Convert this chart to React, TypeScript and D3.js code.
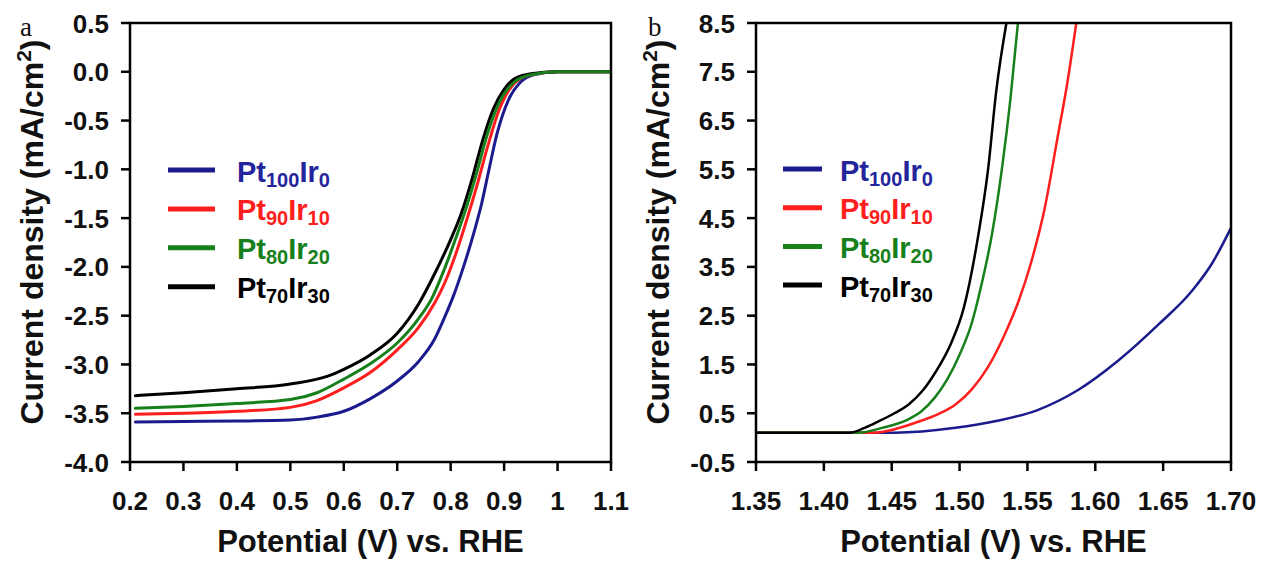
import * as d3 from 'd3'

const FONT = "'Liberation Sans', Arial, Helvetica, sans-serif"
const SERIF = "'Liberation Serif', 'Times New Roman', serif"

const LEGEND_PT = ['100', '90', '80', '70']
const LEGEND_IR = ['0', '10', '20', '30']
const COLORS = ['#1b1b8e', '#ff1e1e', '#17801b', '#000000']
const TEXT_COLORS = ['#24249c', '#ff1e1e', '#17801b', '#000000']

// panel a: ORR polarisation curves [potential V, current mA/cm2]
const orrPt100Ir0: [number, number][] = [
  [0.21, -3.59], [0.3, -3.585], [0.4, -3.58], [0.5, -3.57], [0.55, -3.54], [0.6, -3.48],
  [0.65, -3.35], [0.7, -3.17], [0.74, -2.97], [0.77, -2.74], [0.79, -2.5], [0.805, -2.3],
  [0.824, -2.0], [0.846, -1.6], [0.858, -1.35], [0.871, -1.02], [0.887, -0.63],
  [0.908, -0.29], [0.93, -0.11], [0.955, -0.03], [1.0, 0], [1.05, 0], [1.1, 0],
]
const orrPt90Ir10: [number, number][] = [
  [0.21, -3.51], [0.3, -3.5], [0.4, -3.48], [0.5, -3.44], [0.55, -3.37], [0.6, -3.24],
  [0.65, -3.08], [0.7, -2.85], [0.74, -2.62], [0.77, -2.37], [0.79, -2.15], [0.81, -1.86],
  [0.83, -1.52], [0.85, -1.15], [0.87, -0.75], [0.89, -0.4], [0.91, -0.18], [0.93, -0.07],
  [0.96, -0.02], [1.0, 0], [1.05, 0], [1.1, 0],
]
const orrPt80Ir20: [number, number][] = [
  [0.21, -3.45], [0.3, -3.43], [0.4, -3.4], [0.5, -3.36], [0.55, -3.29], [0.6, -3.15],
  [0.65, -2.99], [0.7, -2.78], [0.74, -2.53], [0.765, -2.32], [0.787, -2.04], [0.81, -1.7],
  [0.83, -1.38], [0.85, -1.01], [0.868, -0.65], [0.893, -0.29], [0.918, -0.11],
  [0.95, -0.03], [1.0, 0], [1.05, 0], [1.1, 0],
]
const orrPt70Ir30: [number, number][] = [
  [0.21, -3.32], [0.3, -3.29], [0.4, -3.25], [0.5, -3.2], [0.57, -3.12], [0.6, -3.05],
  [0.65, -2.9], [0.7, -2.68], [0.74, -2.38], [0.77, -2.07], [0.8, -1.72], [0.82, -1.45],
  [0.84, -1.1], [0.86, -0.7], [0.88, -0.38], [0.9, -0.18], [0.92, -0.07], [0.95, -0.02],
  [1.0, 0], [1.05, 0], [1.1, 0],
]

// panel b: OER curves [potential V, current mA/cm2]
const oerPt100Ir0: [number, number][] = [
  [1.35, 0.1], [1.452, 0.1], [1.497, 0.2], [1.527, 0.34], [1.557, 0.56], [1.587, 0.97],
  [1.617, 1.58], [1.647, 2.33], [1.671, 3.0], [1.686, 3.57], [1.7, 4.3],
]
const oerPt90Ir10: [number, number][] = [
  [1.35, 0.1], [1.437, 0.1], [1.452, 0.17], [1.467, 0.3], [1.485, 0.49], [1.497, 0.68],
  [1.509, 0.99], [1.521, 1.45], [1.533, 2.1], [1.5435, 2.8], [1.5525, 3.57], [1.563, 4.74],
  [1.572, 6.12], [1.5795, 7.29], [1.586, 8.5],
]
const oerPt80Ir20: [number, number][] = [
  [1.35, 0.1], [1.425, 0.1], [1.443, 0.2], [1.461, 0.36], [1.4715, 0.53], [1.482, 0.83],
  [1.491, 1.2], [1.5, 1.7], [1.509, 2.35], [1.515, 3.0], [1.524, 4.19], [1.5315, 5.57],
  [1.5375, 6.95], [1.543, 8.5],
]
const oerPt70Ir30: [number, number][] = [
  [1.35, 0.1], [1.419, 0.1], [1.43, 0.2], [1.44, 0.33], [1.452, 0.5], [1.4625, 0.68],
  [1.473, 0.97], [1.482, 1.33], [1.494, 1.95], [1.503, 2.65], [1.5135, 4.1], [1.521, 5.5],
  [1.527, 7.1], [1.5345, 8.5],
]

const X_TICKS_A = [0.2, 0.3, 0.4, 0.5, 0.6, 0.7, 0.8, 0.9, 1.0, 1.1]
const X_LABELS_A = ['0.2', '0.3', '0.4', '0.5', '0.6', '0.7', '0.8', '0.9', '1', '1.1']
const Y_TICKS_A = [-4, -3.5, -3, -2.5, -2, -1.5, -1, -0.5, 0, 0.5]
const Y_LABELS_A = ['-4.0', '-3.5', '-3.0', '-2.5', '-2.0', '-1.5', '-1.0', '-0.5', '0.0', '0.5']

const X_TICKS_B = [1.35, 1.4, 1.45, 1.5, 1.55, 1.6, 1.65, 1.7]
const X_LABELS_B = ['1.35', '1.40', '1.45', '1.50', '1.55', '1.60', '1.65', '1.70']
const Y_TICKS_B = [-0.5, 0.5, 1.5, 2.5, 3.5, 4.5, 5.5, 6.5, 7.5, 8.5]
const Y_LABELS_B = ['-0.5', '0.5', '1.5', '2.5', '3.5', '4.5', '5.5', '6.5', '7.5', '8.5']

const TOP = 23
const BOTTOM = 462

function Panel(props: any) {
  const { id, letter, letterX, series, order, xDomain, yDomain, left, right,
    xTicks, xLabels, yTicks, yLabels, lineWidth, legend } = props
  const x = d3.scaleLinear().domain(xDomain).range([left, right])
  const y = d3.scaleLinear().domain(yDomain).range([BOTTOM, TOP])
  const line = d3.line<[number, number]>()
    .x((d) => x(d[0]))
    .y((d) => y(d[1]))
    .curve(d3.curveMonotoneX)
  const cx = (left + right) / 2

  return (
    <g fontFamily={FONT}>
      <defs>
        <clipPath id={id}>
          <rect x={left} y={TOP} width={right - left} height={BOTTOM - TOP} />
        </clipPath>
      </defs>

      {/* curves */}
      <g clipPath={`url(#${id})`}>
        {order.map((i: number) => (
          <path key={i} d={line(series[i]) || ''} fill="none" stroke={COLORS[i]}
            strokeWidth={lineWidth} strokeLinejoin="round" strokeLinecap="round" />
        ))}
      </g>

      {/* frame */}
      <rect x={left} y={TOP} width={right - left} height={BOTTOM - TOP}
        fill="none" stroke="#000" strokeWidth={2.5} />

      {/* x ticks */}
      {xTicks.map((t: number, k: number) => (
        <g key={'x' + k}>
          <line x1={x(t)} x2={x(t)} y1={BOTTOM} y2={BOTTOM + 9} stroke="#000" strokeWidth={2.5} />
          <text x={x(t)} y={BOTTOM + 48} textAnchor="middle" fontSize={26} fontWeight="bold" fill="#111">
            {xLabels[k]}
          </text>
        </g>
      ))}

      {/* y ticks */}
      {yTicks.map((t: number, k: number) => (
        <g key={'y' + k}>
          <line x1={left - 9} x2={left} y1={y(t)} y2={y(t)} stroke="#000" strokeWidth={2.5} />
          <text x={left - 21} y={y(t) + 9.5} textAnchor="end" fontSize={26} fontWeight="bold" fill="#111">
            {yLabels[k]}
          </text>
        </g>
      ))}

      {/* axis titles */}
      <text x={cx} y={552} textAnchor="middle" fontSize={31} fontWeight="bold" fill="#111">
        Potential (V) vs. RHE
      </text>
      <text transform={`translate(${left - 87},232) rotate(-90)`} textAnchor="middle"
        fontSize={32} fontWeight="bold" fill="#111">
        Current density (mA/cm<tspan dy={-12} fontSize={21}>2</tspan><tspan dy={12}>)</tspan>
      </text>

      {/* panel letter */}
      <text x={letterX} y={36} fontFamily={SERIF} fontSize={27} fill="#111">{letter}</text>

      {/* legend */}
      {LEGEND_PT.map((pt, i) => {
        const ly = legend.y0 + i * legend.dy
        return (
          <g key={'l' + i}>
            <line x1={legend.x1} x2={legend.x2} y1={ly} y2={ly} stroke={COLORS[i]} strokeWidth={5} />
            <text x={legend.tx} y={ly + 11.5} fontSize={29} fontWeight="bold" fill={TEXT_COLORS[i]}>
              Pt<tspan dy={5} fontSize={20}>{pt}</tspan>
              <tspan dy={-5}>Ir</tspan>
              <tspan dy={5} fontSize={20}>{LEGEND_IR[i]}</tspan>
            </text>
          </g>
        )
      })}
    </g>
  )
}

export default function App() {
  return (
    <div style={{ position: 'absolute', left: 0, top: 0 }}>
      <svg width={1269} height={567} style={{ display: 'block', background: '#fff' }}>
        <Panel
          id="clip-a"
          letter="a"
          letterX={20}
          series={[orrPt100Ir0, orrPt90Ir10, orrPt80Ir20, orrPt70Ir30]}
          order={[0, 1, 3, 2]}
          xDomain={[0.2, 1.1]}
          yDomain={[-4, 0.5]}
          left={130}
          right={611}
          xTicks={X_TICKS_A}
          xLabels={X_LABELS_A}
          yTicks={Y_TICKS_A}
          yLabels={Y_LABELS_A}
          lineWidth={3}
          legend={{ x1: 168, x2: 215, tx: 237, y0: 170, dy: 38.9 }}
        />
        <Panel
          id="clip-b"
          letter="b"
          letterX={648}
          series={[oerPt100Ir0, oerPt90Ir10, oerPt80Ir20, oerPt70Ir30]}
          order={[0, 1, 2, 3]}
          xDomain={[1.35, 1.7]}
          yDomain={[-0.5, 8.5]}
          left={756}
          right={1231}
          xTicks={X_TICKS_B}
          xLabels={X_LABELS_B}
          yTicks={Y_TICKS_B}
          yLabels={Y_LABELS_B}
          lineWidth={2.5}
          legend={{ x1: 783, x2: 822, tx: 840, y0: 169, dy: 38.7 }}
        />
      </svg>
    </div>
  )
}
